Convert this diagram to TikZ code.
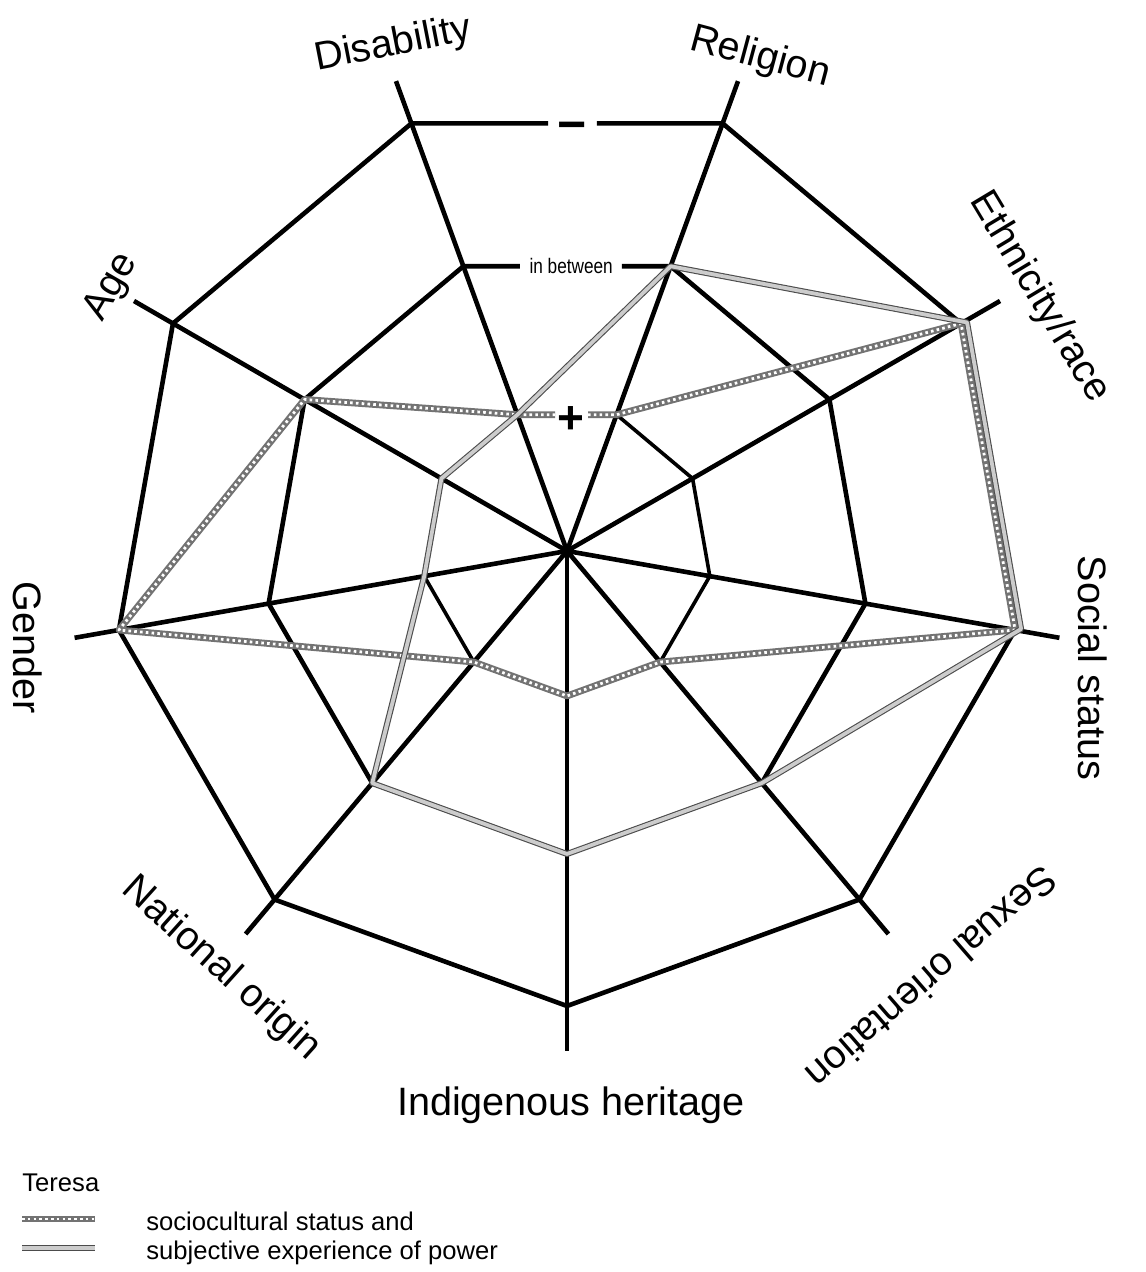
\documentclass[tikz,border=0pt]{standalone}
\usepackage{fontspec}
\setmainfont{Liberation Sans}
\usetikzlibrary{calc}
\begin{document}
\begin{tikzpicture}[x=0.5pt,y=0.5pt,
  web/.style={line width=2.3pt},
  thinweb/.style={line width=1.8pt},
  socio/.style={line width=3.4pt, draw=black!55, line join=round,
    postaction={draw=white, line width=1.4pt, line join=round, dash pattern=on 1.3pt off 1.6pt}},
  power/.style={draw=black!70, line width=0.55pt, double=black!20, double distance=1.9pt, line join=round},
  axislabel/.style={font=\fontsize{19.8}{22}\selectfont, inner sep=0pt},
  legendtext/.style={font=\fontsize{12.8}{14}\selectfont, inner sep=0pt, anchor=base west}]
\useasboundingbox (0,0) rectangle (1145,1272);

% centre of the web and the nine dimensions
\coordinate (c) at (567,721);
\foreach \i/\a in {1/110,2/70,3/30,4/-10,5/-50,6/-90,7/-130,8/-170,9/150} {
  \coordinate (o\i) at ([shift={(\a:455)}]c);
  \coordinate (m\i) at ([shift={(\a:303)}]c);
  \coordinate (n\i) at ([shift={(\a:145)}]c);
  \coordinate (e\i) at ([shift={(\a:500)}]c);
}

% spokes
\foreach \i in {1,...,9} \draw[web] (c) -- (e\i);

% outer ring (minus level)
\coordinate (oL) at ($(o1)!0.439!(o2)$);
\coordinate (oR) at ($(o1)!0.596!(o2)$);
\draw[web] (o1) -- (oL);
\draw[web] (oR) -- (o2) -- (o3);
\draw[web] (o4) -- (o5) -- (o6) -- (o7) -- (o8) -- (o9) -- (o1);
\node[inner sep=0pt, font=\fontsize{25}{25}\selectfont\bfseries] (minus) at ($(o1)!0.515!(o2)+(0,-8)$) {−};

% middle ring (in between)
\coordinate (mL) at ($(m1)!0.273!(m2)$);
\coordinate (mR) at ($(m1)!0.765!(m2)$);
\draw[web] (m1) -- (mL);
\draw[web] (mR) -- (m2) -- (m3) -- (m4) -- (m5);
\draw[web] (m7) -- (m8) -- (m9) -- (m1);
\node[inner sep=0pt] (between) at ($(m1)!0.52!(m2)$)
  {\scalebox{0.82}[1]{\fontsize{10.5}{12}\selectfont in between}};

% inner ring (plus level)
\coordinate (nL) at ($(n1)!0.379!(n2)$);
\coordinate (nR) at ($(n1)!0.712!(n2)$);
\draw[thinweb] (n2) -- (n3) -- (n4) -- (n5);
\draw[thinweb] (n7) -- (n8);
\node[inner sep=0pt, font=\fontsize{23}{23}\selectfont\bfseries] (plus) at ($(n1)!0.54!(n2)+(0,-5)$) {+};

% Teresa: sociocultural status
\draw[socio] (nR) -- (n2) -- (o3) -- (o4) -- (n5) -- (n6) -- (n7) -- (o8) -- (m9) -- (n1) -- (nL);

% Teresa: subjective experience of power
\draw[power] (m2) -- ([shift={(6,1)}]o3) -- ([shift={(6,1)}]o4) -- (m5) -- (m6) -- (m7)
  -- (n8) -- (n9) -- (n1) -- cycle;

% dimension labels
\node[axislabel, rotate=11] (lDis) at (393,1227) {Disability};
\node[axislabel, rotate=-15] (lRel) at (760,1214) {Religion};
\node[axislabel, rotate=-59] (lEth) at (1039,975) {Ethnicity/race};
\node[axislabel, rotate=-90] (lSoc) at (1093,604) {Social status};
\node[axislabel, rotate=-139] (lSex) at (932,294) {Sexual orientation};
\node[axislabel] (lInd) at (571,167) {Indigenous heritage};
\node[axislabel, rotate=-42] (lNat) at (221,303) {National origin};
\node[axislabel, rotate=-90] (lGen) at (28,624) {Gender};
\node[axislabel, rotate=60] (lAge) at (112,985) {Age};

% legend
\node[legendtext] (teresa) at (22,80) {Teresa};
\coordinate (s1a) at (22,53);
\coordinate (s1b) at (95,53);
\draw[socio] (s1a) -- (s1b);
\node[legendtext] (t1) at (146,41) {sociocultural status and};
\coordinate (s2a) at (22,24);
\coordinate (s2b) at (95,24);
\draw[power] (s2a) -- (s2b);
\node[legendtext] (t2) at (146,12) {subjective experience of power};
\end{tikzpicture}
\end{document}
